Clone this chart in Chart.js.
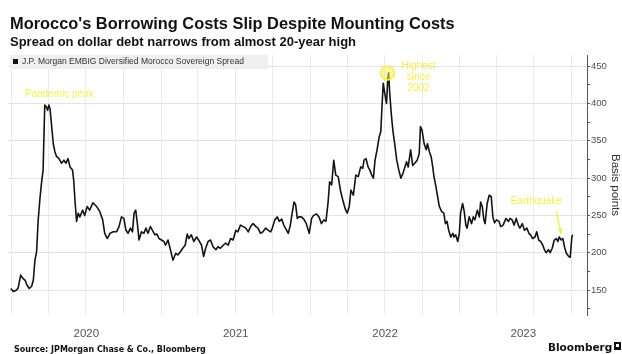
<!DOCTYPE html>
<html>
<head>
<meta charset="utf-8">
<script src="https://cdn.jsdelivr.net/npm/chart.js@4"></script>
<style>
  body { margin: 0; background: #fff; }
  #wrap { position: relative; width: 622px; height: 354px; font-family: "Liberation Sans", Arial, sans-serif; }
  #wrap canvas { position: absolute; left: 0; top: 0; }
  .hd { position: absolute; left: 10px; white-space: nowrap; color: #111; font-weight: bold; line-height: 1; }
  #title { top: 15px; font-size: 16.4px; }
  #subtitle { top: 35px; font-size: 13px; }
  #source { position: absolute; left: 14px; top: 346px; white-space: nowrap; color: #111; font: bold 8px "DejaVu Sans"; line-height: 1; }
  #brand { position: absolute; left: 548px; top: 342px; white-space: nowrap; color: #111; font: bold 10.5px "DejaVu Sans"; line-height: 1; }
  #logo { position: absolute; left: 614px; top: 342px; width: 7px; height: 8px; background: #111; }
  #logo i { position: absolute; left: 2px; top: 2px; width: 3px; height: 3px; background: #fff; }
</style>
</head>
<body>
<div id="wrap">
  <canvas id="chart" width="622" height="354"></canvas>
  <div class="hd" id="title">Morocco's Borrowing Costs Slip Despite Mounting Costs</div>
  <div class="hd" id="subtitle">Spread on dollar debt narrows from almost 20-year high</div>
  <div id="source">Source: JPMorgan Chase &amp; Co., Bloomberg</div>
  <div id="brand">Bloomberg</div>
  <div id="logo"><i></i></div>
</div>
<script>
const seriesName = "J.P. Morgan EMBIG Diversified Morocco Sovereign Spread"

const dates = [
  "2019-12-30","2020-01-05","2020-01-13","2020-01-17","2020-01-23","2020-01-28","2020-02-03","2020-02-07","2020-02-13","2020-02-19",
  "2020-02-23","2020-02-27","2020-03-02","2020-03-06","2020-03-10","2020-03-14","2020-03-18","2020-03-22","2020-03-26","2020-03-29",
  "2020-04-01","2020-04-04","2020-04-08","2020-04-12","2020-04-16","2020-04-20","2020-04-26","2020-05-02","2020-05-08","2020-05-13",
  "2020-05-18","2020-05-23","2020-05-29","2020-06-01","2020-06-04","2020-06-08","2020-06-12","2020-06-16","2020-06-23","2020-06-28",
  "2020-07-04","2020-07-10","2020-07-18","2020-07-27","2020-08-04","2020-08-11","2020-08-16","2020-08-22","2020-08-29","2020-09-06",
  "2020-09-14","2020-09-20","2020-09-26","2020-10-02","2020-10-07","2020-10-12","2020-10-18","2020-10-23","2020-10-27","2020-10-31",
  "2020-11-04","2020-11-08","2020-11-14","2020-11-20","2020-11-25","2020-11-30","2020-12-06","2020-12-11","2020-12-17","2020-12-22",
  "2020-12-27",
  "2021-01-02","2021-01-08","2021-01-12","2021-01-18","2021-01-24","2021-01-30","2021-02-06","2021-02-11","2021-02-17","2021-02-23",
  "2021-03-01","2021-03-06","2021-03-10","2021-03-16","2021-03-22","2021-03-29","2021-04-03","2021-04-10","2021-04-15","2021-04-20",
  "2021-04-26","2021-05-02","2021-05-08","2021-05-15","2021-05-20","2021-05-26","2021-06-02","2021-06-08","2021-06-14","2021-06-20",
  "2021-06-26","2021-07-03","2021-07-08","2021-07-14","2021-07-21","2021-07-27","2021-08-02","2021-08-08","2021-08-14","2021-08-21",
  "2021-08-26","2021-09-01","2021-09-07","2021-09-14","2021-09-20","2021-09-26","2021-09-30","2021-10-06","2021-10-12","2021-10-17",
  "2021-10-23","2021-10-28","2021-11-04","2021-11-08","2021-11-13","2021-11-18","2021-11-22","2021-11-26","2021-11-30","2021-12-04",
  "2021-12-10","2021-12-16","2021-12-22","2021-12-29",
  "2022-01-04","2022-01-09","2022-01-16","2022-01-22","2022-01-28","2022-02-03","2022-02-08","2022-02-13","2022-02-17","2022-02-22",
  "2022-02-27","2022-03-04","2022-03-10","2022-03-16","2022-03-21","2022-03-27","2022-04-01","2022-04-06","2022-04-10","2022-04-16",
  "2022-04-22","2022-04-28","2022-05-04","2022-05-09","2022-05-12","2022-05-17","2022-05-22","2022-05-26","2022-05-31","2022-06-04",
  "2022-06-08","2022-06-13","2022-06-18","2022-06-22","2022-06-25","2022-06-28","2022-07-02","2022-07-06","2022-07-09","2022-07-11",
  "2022-07-14","2022-07-18","2022-07-22","2022-07-27","2022-07-31","2022-08-05","2022-08-10","2022-08-15","2022-08-20","2022-08-24",
  "2022-08-28","2022-09-03","2022-09-08","2022-09-13","2022-09-19","2022-09-24","2022-09-27","2022-10-01","2022-10-06","2022-10-11",
  "2022-10-14","2022-10-19","2022-10-23","2022-10-27","2022-10-30","2022-11-04","2022-11-08","2022-11-12","2022-11-18","2022-11-23",
  "2022-11-27","2022-12-01","2022-12-05","2022-12-10","2022-12-15","2022-12-18","2022-12-22","2022-12-27","2022-12-31",
  "2023-01-03","2023-01-08","2023-01-12","2023-01-16","2023-01-19","2023-01-24","2023-01-30","2023-02-03","2023-02-07","2023-02-13",
  "2023-02-18","2023-02-21","2023-02-25","2023-03-01","2023-03-04","2023-03-09","2023-03-14","2023-03-19","2023-03-23","2023-03-27",
  "2023-04-01","2023-04-07","2023-04-11","2023-04-17","2023-04-24","2023-04-30","2023-05-04","2023-05-09","2023-05-14","2023-05-19",
  "2023-05-24","2023-05-28","2023-06-03","2023-06-08","2023-06-14","2023-06-19","2023-06-23","2023-06-28","2023-07-04","2023-07-08",
  "2023-07-13","2023-07-18","2023-07-23","2023-07-27","2023-07-31","2023-08-06","2023-08-10","2023-08-15","2023-08-20","2023-08-25",
  "2023-08-29","2023-09-01","2023-09-06","2023-09-10","2023-09-14","2023-09-18","2023-09-24","2023-09-28","2023-10-02","2023-10-04"
]

// spread in basis points, one per date
const spread = [
  152,148,150,153,170,166,163,157,152,155, 163,190,201,244,271,293,311,398,395,391,
  398,393,369,346,335,329,326,320,324,320, 326,315,311,297,271,242,253,248,257,250,
  262,257,267,262,255,244,226,219,226,228, 228,235,248,246,230,226,233,228,253,257,
  239,217,228,226,233,226,235,230,224,225, 219,
  217,215,210,217,204,190,199,197,201,206, 210,225,219,224,215,221,217,210,195,206,
  215,217,208,204,208,206,210,213,210,219, 217,230,228,237,235,233,228,235,239,235,
  233,226,228,233,230,228,233,244,248,242, 245,237,230,226,237,255,268,264,246,248,
  248,245,239,226,
  246,250,252,248,239,244,242,266,295,291, 324,304,302,282,271,259,253,262,284,277,
  304,302,315,313,324,326,315,311,304,300, 324,338,355,362,396,427,413,400,431,441,
  413,384,362,342,324,311,300,306,315,322, 315,338,317,320,324,333,369,364,346,338,
  346,335,329,315,302,288,275,262,255,253, 239,242,230,221,226,221,224,215,226,
  253,266,255,237,233,248,239,248,244,257, 248,268,262,244,239,266,277,275,248,240,
  244,242,235,237,246,242,246,244,237,246, 237,233,239,230,233,226,224,219,221,228,
  217,215,210,204,200,204,200,206,217,219, 215,221,217,219,208,200,195,194,221,224
]

const yearLabels = ["2020", "2021", "2022", "2023"]
const yTickValues = [125, 150, 175, 200, 225, 250, 275, 300, 325, 350, 375, 400, 425, 450]
const xStart = "2019-12-23"
const xEnd = "2023-11-08"
const quakeDate = "2023-09-06"

const YELLOW = "#f2ee58"

// date string -> fractional year, so a plain linear axis can be used
function toYear(s) {
  const [y, m, d] = s.split("-").map(Number)
  const a = Date.UTC(y, 0, 1)
  const b = Date.UTC(y + 1, 0, 1)
  return y + (Date.UTC(y, m - 1, d) - a) / (b - a)
}

const points = dates.map((d, i) => ({ x: toYear(d), y: spread[i] }))

const quarterLines = []
for (let y = 2020; y <= 2023; y++) {
  for (const m of ["01", "04", "07", "10"]) quarterLines.push(toYear(`${y}-${m}-01`))
}

const overlay = {
  id: "overlay",
  afterDatasetsDraw(chart) {
    const { ctx, chartArea, scales: { x, y } } = chart
    ctx.save()

    // legend strip
    ctx.fillStyle = "#efefef"
    ctx.fillRect(chartArea.left + 2, chartArea.top, 258, 14)
    ctx.fillStyle = "#111"
    ctx.fillRect(chartArea.left + 5, chartArea.top + 4, 5, 5)
    ctx.fillStyle = "#333"
    ctx.font = "8.5px 'Liberation Sans'"
    ctx.textBaseline = "middle"
    ctx.textAlign = "left"
    ctx.fillText(seriesName, chartArea.left + 14, chartArea.top + 7)

    // year labels centred under the visible part of each year
    ctx.fillStyle = "#555"
    ctx.font = "11.5px 'Liberation Sans'"
    ctx.textAlign = "center"
    yearLabels.forEach(label => {
      const yr = Number(label)
      const a = Math.max(yr, x.min)
      const b = Math.min(yr + 1, x.max)
      ctx.fillText(label, (x.getPixelForValue(a) + x.getPixelForValue(b)) / 2, chartArea.bottom + 19)
    })

    // annotations
    ctx.fillStyle = YELLOW
    ctx.strokeStyle = YELLOW
    ctx.font = "10px 'Liberation Sans'"

    let covidIdx = 0
    dates.forEach((d, i) => { if (d < "2021" && spread[i] > spread[covidIdx]) covidIdx = i })
    const cx = x.getPixelForValue(points[covidIdx].x)
    const cy = y.getPixelForValue(spread[covidIdx])
    ctx.textAlign = "left"
    ctx.fillText("Pandemic peak", cx - 20, cy - 11)

    let topIdx = 0
    spread.forEach((v, i) => { if (v > spread[topIdx]) topIdx = i })
    const hx = x.getPixelForValue(points[topIdx].x)
    const hy = y.getPixelForValue(spread[topIdx])
    ctx.globalAlpha = 0.55
    ctx.beginPath()
    ctx.arc(hx - 1, hy, 7, 0, Math.PI * 2)
    ctx.fill()
    ctx.globalAlpha = 1
    ctx.lineWidth = 1.5
    ctx.stroke()
    ctx.textAlign = "center"
    ctx.fillText("Highest", hx + 30, hy - 7)
    ctx.fillText("since", hx + 30, hy + 4)
    ctx.fillText("2002", hx + 30, hy + 15)

    const qi = dates.indexOf(quakeDate)
    const qx = x.getPixelForValue(points[qi].x)
    const qy = y.getPixelForValue(spread[qi])
    ctx.fillText("Earthquake", qx - 25, qy - 39)
    const tx = qx, ty = qy - 6, sx = qx - 5, sy = qy - 29
    ctx.beginPath()
    ctx.moveTo(sx, sy)
    ctx.lineTo(tx, ty)
    ctx.stroke()
    const ang = Math.atan2(ty - sy, tx - sx)
    ctx.beginPath()
    ctx.moveTo(tx, ty)
    ctx.lineTo(tx - 6 * Math.cos(ang - 0.45), ty - 6 * Math.sin(ang - 0.45))
    ctx.lineTo(tx - 6 * Math.cos(ang + 0.45), ty - 6 * Math.sin(ang + 0.45))
    ctx.closePath()
    ctx.fill()

    ctx.restore()
  }
}

Chart.defaults.font.family = "'Liberation Sans', Arial, sans-serif"

new Chart(document.getElementById("chart"), {
  type: "line",
  data: {
    datasets: [{
      label: seriesName,
      data: points,
      borderColor: "#141414",
      borderWidth: 1.6,
      pointRadius: 0,
      tension: 0,
      borderJoinStyle: "round"
    }]
  },
  options: {
    responsive: false,
    animation: false,
    layout: { padding: { left: 8, top: 55, bottom: 39, right: 0 } },
    plugins: {
      legend: { display: false },
      tooltip: { enabled: false }
    },
    scales: {
      x: {
        type: "linear",
        min: toYear(xStart),
        max: toYear(xEnd),
        afterBuildTicks: scale => { scale.ticks = quarterLines.map(v => ({ value: v })) },
        afterFit: scale => { scale.height = 0 },
        ticks: { display: false },
        grid: { color: "#ebebeb", drawTicks: false },
        border: { display: false }
      },
      y: {
        position: "right",
        min: 116.5,
        max: 465,
        afterBuildTicks: scale => { scale.ticks = yTickValues.map(v => ({ value: v })) },
        afterFit: scale => { scale.width = 35 },
        ticks: {
          autoSkip: false,
          color: "#4d4d4d",
          font: { size: 9.5 },
          padding: 1,
          callback: v => (v % 50 === 0 ? v : "")
        },
        grid: {
          color: c => (c.tick && c.tick.value % 50 === 0 ? "#e3e3e3" : "rgba(0,0,0,0)"),
          tickColor: "#555",
          tickLength: 3
        },
        border: { color: "#555" },
        title: {
          display: true,
          text: "Basis points",
          color: "#333",
          font: { size: 11.5 },
          padding: { top: 0, bottom: 0 }
        }
      }
    }
  },
  plugins: [overlay]
})
</script>
</body>
</html>
